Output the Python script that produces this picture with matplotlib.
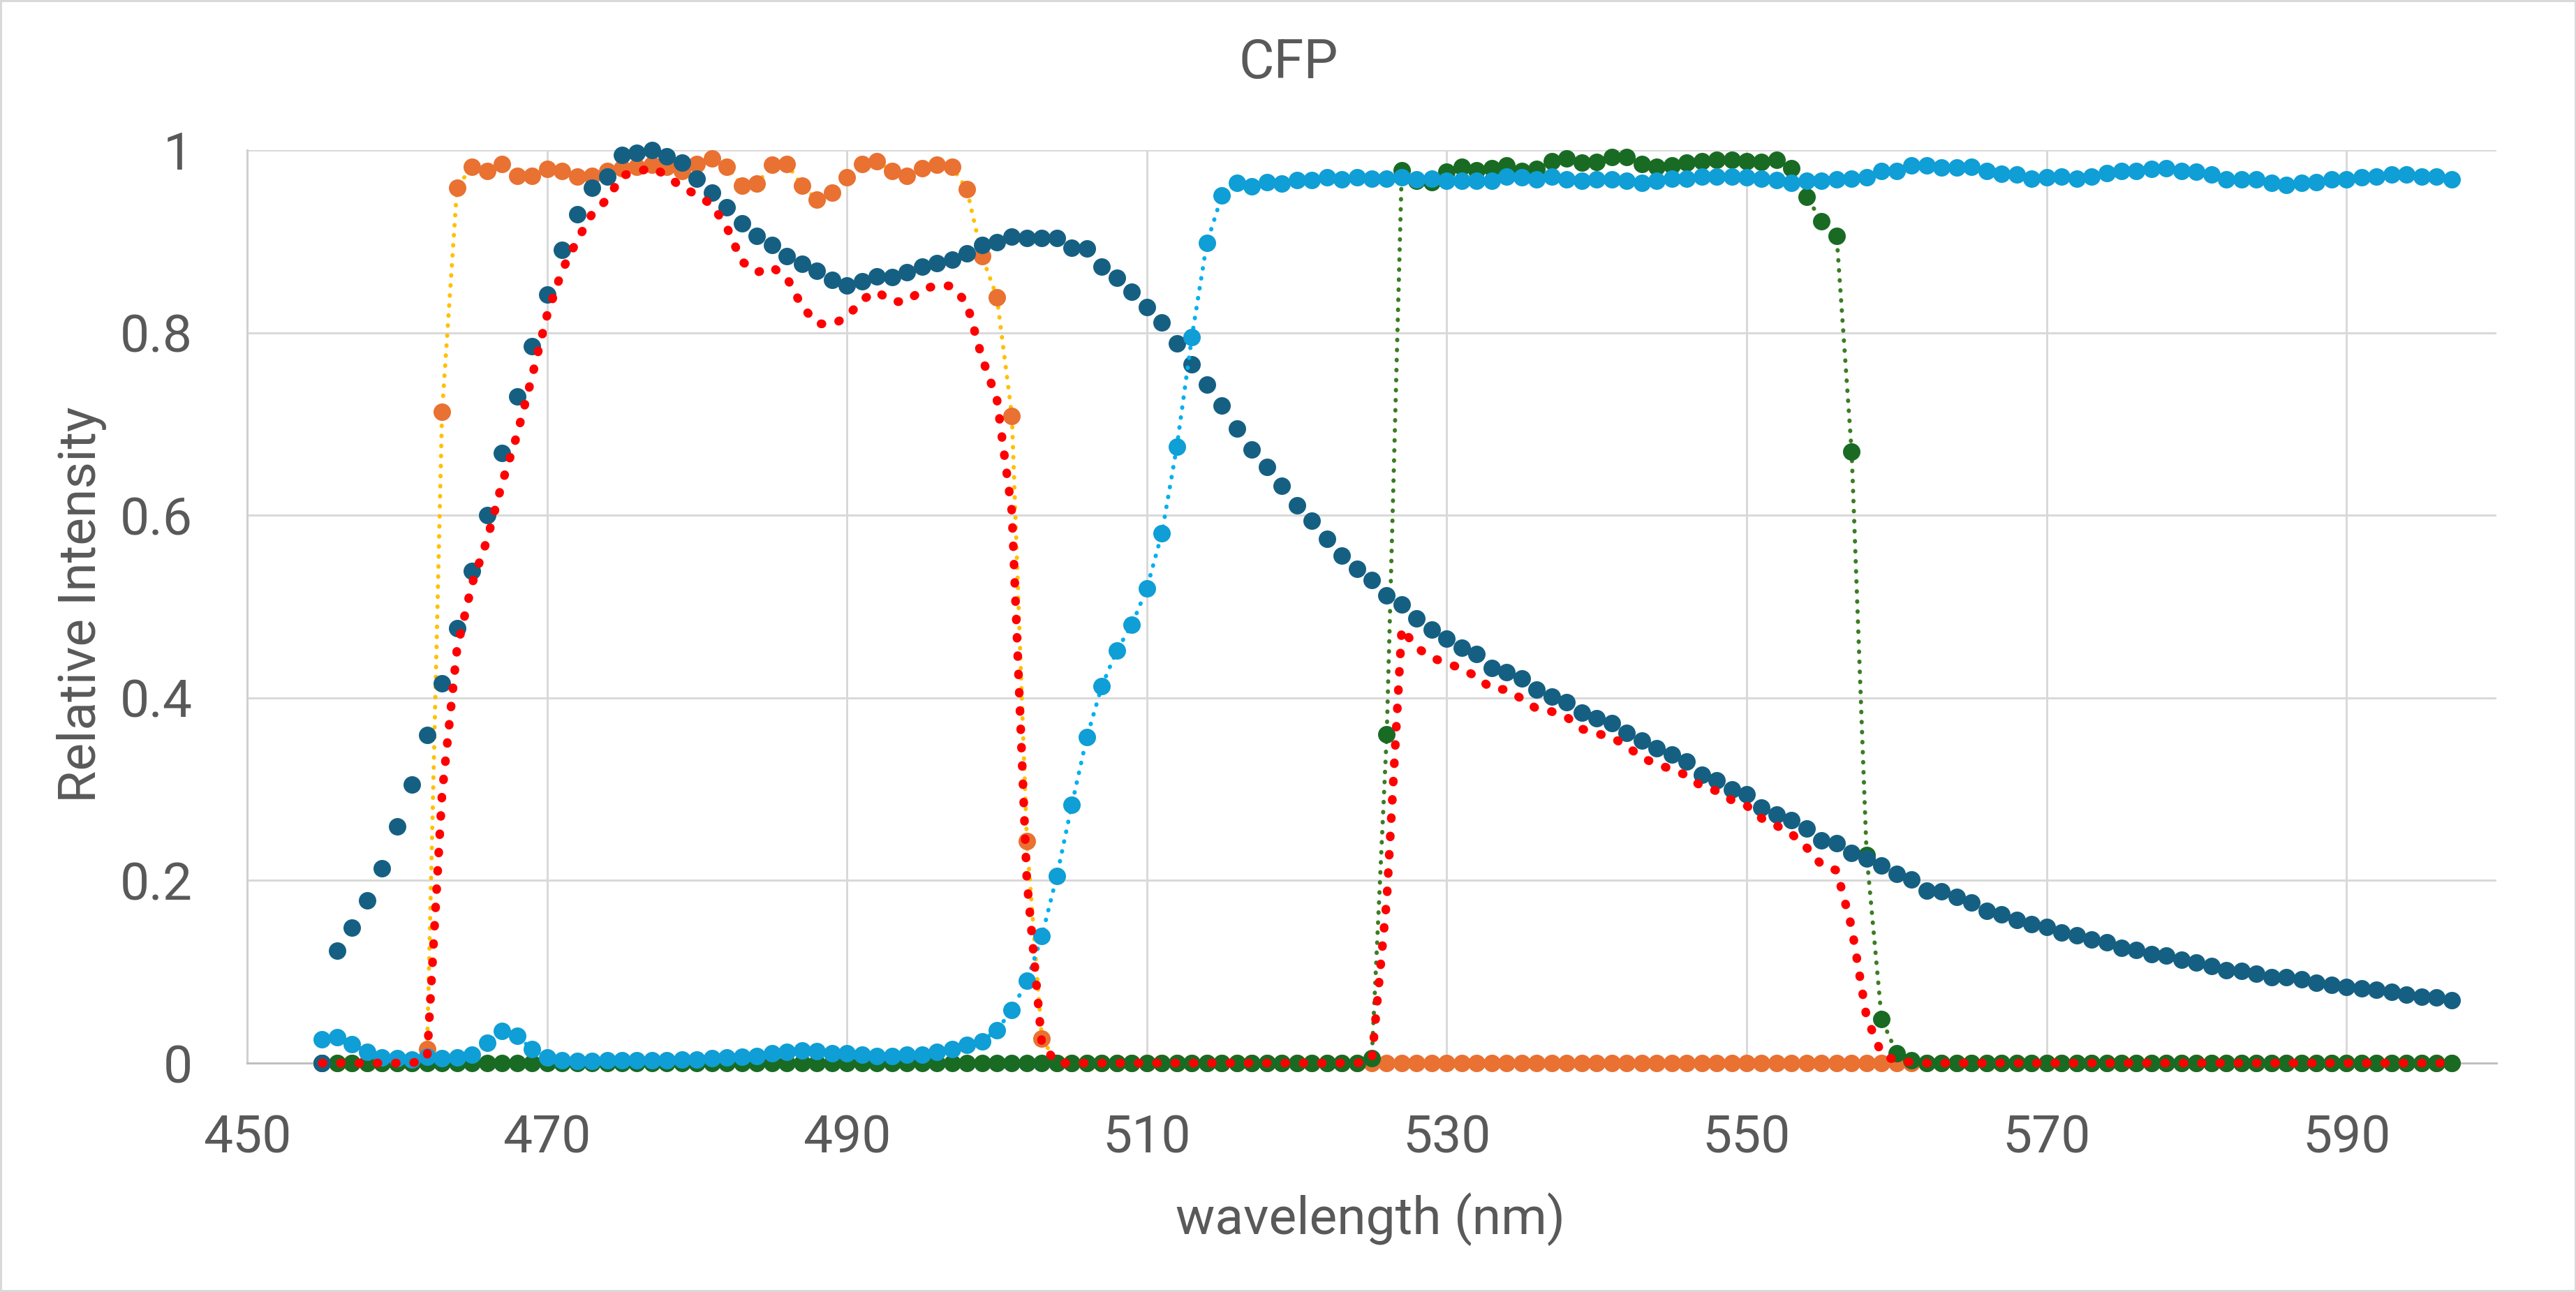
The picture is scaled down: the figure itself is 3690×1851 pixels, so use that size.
import numpy as np
import matplotlib
matplotlib.use('Agg')
import matplotlib.pyplot as plt
from matplotlib.patches import Rectangle

plt.rcParams['font.family'] = ['Roboto', 'DejaVu Sans']

# wavelength in nm, one point per nm
wavelength = np.arange(455, 598)

# CFP emission spectrum
cfp_emission = [
    0.000, 0.123, 0.148, 0.178, 0.213, 0.259, 0.305, 0.359, 0.416, 0.476,
    0.539, 0.600, 0.668, 0.730, 0.785, 0.842, 0.891, 0.930, 0.959, 0.971,
    0.995, 0.997, 1.000, 0.993, 0.986, 0.969, 0.953, 0.937, 0.920, 0.906,
    0.896, 0.884, 0.875, 0.868, 0.858, 0.852, 0.856, 0.862, 0.861, 0.866,
    0.872, 0.876, 0.880, 0.887, 0.896, 0.899, 0.905, 0.904, 0.904, 0.904,
    0.893, 0.892, 0.872, 0.860, 0.845, 0.828, 0.811, 0.788, 0.765, 0.743,
    0.720, 0.695, 0.672, 0.653, 0.632, 0.611, 0.594, 0.574, 0.556, 0.541,
    0.529, 0.512, 0.502, 0.487, 0.475, 0.465, 0.455, 0.448, 0.433, 0.428,
    0.421, 0.409, 0.401, 0.395, 0.384, 0.378, 0.372, 0.362, 0.353, 0.345,
    0.338, 0.330, 0.316, 0.310, 0.300, 0.294, 0.280, 0.272, 0.266, 0.257,
    0.244, 0.241, 0.230, 0.224, 0.216, 0.207, 0.201, 0.189, 0.188, 0.182,
    0.176, 0.167, 0.163, 0.157, 0.152, 0.149, 0.143, 0.140, 0.135, 0.132,
    0.126, 0.124, 0.119, 0.118, 0.113, 0.110, 0.106, 0.102, 0.101, 0.098,
    0.094, 0.094, 0.092, 0.088, 0.086, 0.083, 0.082, 0.080, 0.078, 0.075,
    0.073, 0.072, 0.069,
]

# excitation filter
excitation = [
    0.000, 0.000, 0.000, 0.000, 0.000, 0.000, 0.000, 0.015, 0.713, 0.959,
    0.982, 0.977, 0.985, 0.972, 0.972, 0.979, 0.977, 0.971, 0.972, 0.977,
    0.980, 0.982, 0.984, 0.982, 0.977, 0.985, 0.991, 0.982, 0.961, 0.963,
    0.984, 0.985, 0.961, 0.946, 0.953, 0.970, 0.985, 0.988, 0.977, 0.972,
    0.980, 0.984, 0.982, 0.957, 0.884, 0.839, 0.709, 0.243, 0.027, 0.000,
] + [0.000] * 93

# dichroic mirror
dichroic = [
    0.026, 0.028, 0.021, 0.012, 0.006, 0.005, 0.004, 0.007, 0.005, 0.006,
    0.009, 0.022, 0.035, 0.030, 0.015, 0.006, 0.003, 0.002, 0.002, 0.003,
    0.003, 0.003, 0.003, 0.003, 0.004, 0.004, 0.005, 0.006, 0.007, 0.008,
    0.011, 0.012, 0.014, 0.013, 0.011, 0.011, 0.009, 0.008, 0.008, 0.009,
    0.009, 0.012, 0.015, 0.020, 0.024, 0.036, 0.058, 0.090, 0.139, 0.205,
    0.283, 0.357, 0.413, 0.452, 0.480, 0.520, 0.580, 0.675, 0.795, 0.898,
    0.950, 0.964, 0.960, 0.965, 0.963, 0.967, 0.967, 0.970, 0.968, 0.970,
    0.969, 0.969, 0.970, 0.968, 0.969, 0.966, 0.966, 0.966, 0.966, 0.971,
    0.970, 0.968, 0.971, 0.968, 0.966, 0.968, 0.968, 0.966, 0.964, 0.966,
    0.969, 0.969, 0.971, 0.971, 0.971, 0.970, 0.969, 0.967, 0.964, 0.966,
    0.966, 0.968, 0.969, 0.970, 0.977, 0.977, 0.983, 0.983, 0.981, 0.981,
    0.982, 0.977, 0.974, 0.973, 0.969, 0.970, 0.971, 0.969, 0.971, 0.975,
    0.977, 0.977, 0.979, 0.980, 0.977, 0.976, 0.973, 0.968, 0.968, 0.968,
    0.964, 0.962, 0.964, 0.965, 0.968, 0.968, 0.970, 0.971, 0.973, 0.973,
    0.971, 0.971, 0.968,
]

# emission filter
emission_filter = [0.000] * 70 + [
    0.005, 0.360, 0.978, 0.966, 0.965, 0.976, 0.982, 0.978, 0.980, 0.983,
    0.977, 0.979, 0.988, 0.991, 0.986, 0.987, 0.992, 0.992, 0.985, 0.982,
    0.983, 0.986, 0.988, 0.989, 0.989, 0.988, 0.987, 0.989, 0.980, 0.949,
    0.922, 0.906, 0.670, 0.228, 0.048, 0.011, 0.003,
] + [0.000] * 36

# detected signal
detected = [
    0.000, 0.000, 0.000, 0.000, 0.000, 0.000, 0.000, 0.005, 0.295, 0.454,
    0.525, 0.573, 0.635, 0.688, 0.752, 0.819, 0.868, 0.901, 0.930, 0.946,
    0.972, 0.976, 0.981, 0.972, 0.959, 0.951, 0.940, 0.915, 0.878, 0.866,
    0.872, 0.860, 0.829, 0.810, 0.809, 0.817, 0.836, 0.845, 0.834, 0.834,
    0.847, 0.852, 0.851, 0.832, 0.773, 0.727, 0.604, 0.200, 0.021, 0.000,
] + [0.000] * 20 + [
    0.003, 0.179, 0.476, 0.455, 0.444, 0.438, 0.432, 0.423, 0.410, 0.409,
    0.399, 0.388, 0.385, 0.379, 0.366, 0.361, 0.357, 0.347, 0.335, 0.327,
    0.322, 0.315, 0.303, 0.298, 0.288, 0.282, 0.268, 0.260, 0.251, 0.236,
    0.217, 0.211, 0.149, 0.050, 0.010, 0.002, 0.001,
] + [0.000] * 36

px = 0.72  # points per pixel at dpi 100
fig = plt.figure(figsize=(36.91, 18.51), dpi=100)
ax = fig.add_axes([354 / 3691, 1 - 1523 / 1851, 3222 / 3691, 1308 / 1851])

ms = 25 * px
thin = 6 * px
dots = (0, (0.1, 2.3))

ax.plot(wavelength, excitation, color='#FFC000', lw=thin, ls=dots,
        dash_capstyle='round', marker='o', ms=ms, mfc='#E97132',
        mec='#E97132', mew=0, zorder=3, clip_on=False)
ax.plot(wavelength, emission_filter, color='#3B7D23', lw=thin, ls=dots,
        dash_capstyle='round', marker='o', ms=ms, mfc='#196B24',
        mec='#196B24', mew=0, zorder=4, clip_on=False)
ax.plot(wavelength, cfp_emission, ls='none', marker='o', ms=ms,
        mfc='#156082', mec='#156082', mew=0, zorder=5, clip_on=False)
ax.plot(wavelength, dichroic, color='#00B0F0', lw=thin, ls=dots,
        dash_capstyle='round', marker='o', ms=ms, mfc='#0F9ED5',
        mec='#0F9ED5', mew=0, zorder=6, clip_on=False)
ax.plot(wavelength, detected, color='#FF0000', lw=12.5 * px,
        ls=(0, (0.1, 2.0)), dash_capstyle='round', zorder=7, clip_on=False)

ax.set_xlim(450, 600)
ax.set_ylim(0, 1)
ax.set_xticks(np.arange(450, 591, 20))
ax.set_yticks([0, 0.2, 0.4, 0.6, 0.8, 1.0])
ax.set_yticklabels(['0', '0.2', '0.4', '0.6', '0.8', '1'])

ax.set_axisbelow(True)
ax.grid(True, color='#D9D9D9', lw=3 * px)
for side in ['top', 'right']:
    ax.spines[side].set_visible(False)
ax.spines['left'].set_color('#D0D0D0')
ax.spines['left'].set_linewidth(3 * px)
ax.spines['bottom'].set_color('#BFBFBF')
ax.spines['bottom'].set_linewidth(3 * px)

ax.tick_params(axis='both', length=0, labelsize=54, labelcolor='#595959')
ax.tick_params(axis='x', pad=52)
ax.tick_params(axis='y', pad=56)

txt = '#595959'
fig.text(0.5, 1 - 112 / 1851, 'CFP', ha='center', va='baseline',
         fontsize=56, color=txt)
fig.text(1963 / 3691, 1 - 1768 / 1851, 'wavelength (nm)', ha='center',
         va='baseline', fontsize=54, color=txt)
fig.text(137 / 3691, 1 - 866 / 1851, 'Relative Intensity', ha='center',
         va='baseline', rotation=90, rotation_mode='anchor', fontsize=54,
         color=txt)

fig.patches.append(Rectangle((0, 0), 1, 1, transform=fig.transFigure,
                             fill=False, edgecolor='#D9D9D9', lw=6 * px))

fig.savefig('out.png', dpi=100)
